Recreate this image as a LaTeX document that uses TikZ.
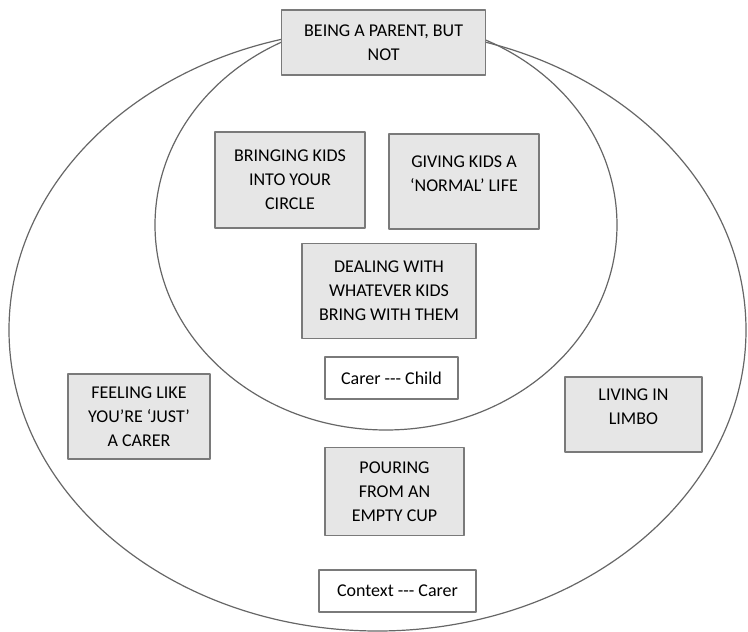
\documentclass[tikz,border=0pt]{standalone}
\usepackage{fontspec}
\setmainfont{Carlito}
\definecolor{boxfill}{HTML}{E6E6E6}
\definecolor{boxline}{HTML}{7A7A7A}
\definecolor{ringline}{HTML}{666666}
\begin{document}
\begin{tikzpicture}[x=1pt,y=-1pt,line cap=round,line join=round,
  every node/.style={font=\fontsize{18}{24}\selectfont,align=center,inner sep=0pt},
  theme/.style={draw=boxline,fill=boxfill,line width=1.4pt},
  pair/.style={draw=boxline,fill=white,line width=1.4pt,minimum height=42pt}]
  % Two nested rings, themes placed in boxes over them.
  \useasboundingbox (0,0) rectangle (748,632);
  \draw[ringline,line width=1.2pt] (377.5,330) ellipse [x radius=368.5,y radius=301];
  \draw[ringline,line width=1.2pt] (386,225) ellipse [x radius=231,y radius=205];

  \node[theme,minimum width=204pt,minimum height=65pt] (parent) at (383.6,42.5) {BEING A PARENT, BUT\\NOT};
  \node[theme,minimum width=150pt,minimum height=96pt] (circle) at (290,180) {BRINGING KIDS\\INTO YOUR\\CIRCLE};
  \node[theme,minimum width=150pt,minimum height=95pt] (normal) at (464,181.5) {GIVING KIDS A\\‘NORMAL’ LIFE\\[-8pt]\mbox{}};
  \node[theme,minimum width=174pt,minimum height=95.5pt] (dealing) at (389,291) {DEALING WITH\\WHATEVER KIDS\\BRING WITH THEM};
  \node[pair,minimum width=133pt] (carerchild) at (391.5,378) {Carer \mbox{-}\mbox{-}\mbox{-} Child};

  \node[theme,minimum width=142pt,minimum height=85pt] (justcarer) at (139,416.5) {FEELING LIKE\\YOU’RE ‘JUST’\\A CARER};
  \node[theme,minimum width=137pt,minimum height=75pt] (limbo) at (633.5,414.5) {LIVING IN\\LIMBO\\[-8pt]\mbox{}};
  \node[theme,minimum width=139pt,minimum height=88pt] (cup) at (394.5,491.5) {POURING\\FROM AN\\EMPTY CUP};
  \node[pair,minimum width=157pt] (contextcarer) at (397.5,591) {Context \mbox{-}\mbox{-}\mbox{-} Carer};
\end{tikzpicture}
\end{document}
